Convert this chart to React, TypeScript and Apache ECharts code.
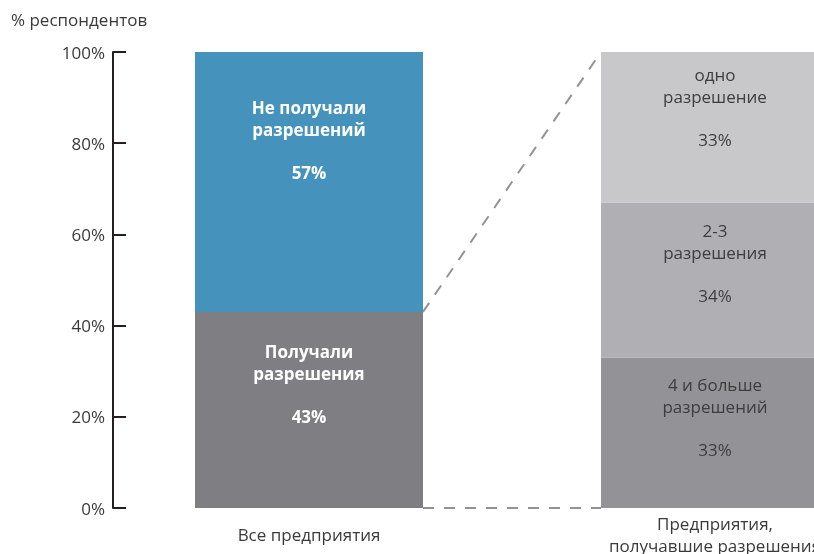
import React, { useEffect, useRef } from "react";
import * as echarts from "echarts";

const categories = ["Все предприятия", "Предприятия,\nполучавшие разрешения"];
const yTicks = [0, 20, 40, 60, 80, 100];
const bottomValues = [43, 33];
const middleValues = [57, 34];
const topValues: (number | null)[] = [null, 33];
const bottomLabels = ["Получали\nразрешения\n\n43%", "4 и больше\nразрешений\n\n33%"];
const middleLabels = ["Не получали\nразрешений\n\n57%", "2-3\nразрешения\n\n34%"];
const topLabels = ["", "одно\nразрешение\n\n33%"];

const FONT = "'Open Sans', 'Noto Sans', sans-serif";
const FS = 17;
const LH = 21.5;

const leftLabel = (text: string, dy: number) => ({
  show: true,
  position: "inside",
  formatter: text,
  color: "#ffffff",
  fontWeight: "bold",
  fontSize: FS,
  lineHeight: LH,
  fontFamily: FONT,
  offset: [0, dy],
});
const rightLabel = (text: string, dy: number) => ({
  show: true,
  position: "inside",
  formatter: text,
  color: "#3d3d3f",
  fontWeight: "normal",
  fontSize: FS,
  lineHeight: LH,
  fontFamily: FONT,
  offset: [0, dy],
});

export default function App() {
  const ref = useRef<HTMLDivElement>(null);
  useEffect(() => {
    if (!ref.current) return;
    const chart = echarts.init(ref.current, null, { renderer: "svg" });
    const BAR_W = 228;
    chart.setOption({
      animation: false,
      title: {
        text: "% респондентов",
        left: 6,
        top: 6,
        textStyle: { fontFamily: FONT, fontSize: FS, fontWeight: "normal", color: "#3a3a3a" },
      },
      grid: {
        left: 106,
        width: 812,
        top: 52,
        bottom: 46,
        containLabel: false,
        outerBoundsMode: "none",
      },
      xAxis: {
        type: "category",
        data: categories,
        axisLine: { show: false },
        axisTick: { show: false },
        axisLabel: {
          fontFamily: FONT,
          fontSize: FS,
          color: "#3a3a3a",
          lineHeight: 22,
          verticalAlign: "middle",
          margin: 26,
          interval: 0,
        },
      },
      yAxis: {
        type: "value",
        min: yTicks[0],
        max: yTicks[yTicks.length - 1],
        interval: 20,
        offset: -7,
        axisLine: { show: true, lineStyle: { color: "#231f20", width: 2 } },
        axisTick: { show: true, inside: true, length: 13, lineStyle: { color: "#231f20", width: 2 } },
        splitLine: { show: false },
        axisLabel: {
          formatter: "{value}%",
          fontFamily: FONT,
          fontSize: FS,
          color: "#3a3a3a",
          margin: 8,
        },
      },
      series: [
        {
          type: "bar",
          stack: "s",
          barWidth: BAR_W,
          data: [
            { value: bottomValues[0], itemStyle: { color: "#7f7f83" }, label: leftLabel(bottomLabels[0], -26) },
            { value: bottomValues[1], itemStyle: { color: "#939397" }, label: rightLabel(bottomLabels[1], -16) },
          ],
        },
        {
          type: "bar",
          stack: "s",
          barWidth: BAR_W,
          data: [
            { value: middleValues[0], itemStyle: { color: "#4593bd" }, label: leftLabel(middleLabels[0], -42) },
            { value: middleValues[1], itemStyle: { color: "#b0b0b4" }, label: rightLabel(middleLabels[1], -17) },
          ],
        },
        {
          type: "bar",
          stack: "s",
          barWidth: BAR_W,
          data: [
            { value: topValues[0], itemStyle: { color: "#c8c8cb" }, label: { show: false, formatter: topLabels[0] } },
            { value: topValues[1], itemStyle: { color: "#c8c8cb" }, label: rightLabel(topLabels[1], -20) },
          ],
        },
      ],
    });
    const a = chart.convertToPixel({ gridIndex: 0 }, [0, bottomValues[0]]) as number[];
    const a0 = chart.convertToPixel({ gridIndex: 0 }, [0, 0]) as number[];
    const b = chart.convertToPixel({ gridIndex: 0 }, [1, 100]) as number[];
    const b0 = chart.convertToPixel({ gridIndex: 0 }, [1, 0]) as number[];
    const dash = { stroke: "#939396", lineWidth: 2, lineDash: [11, 10] };
    chart.setOption({
      graphic: [
        { type: "line", shape: { x1: a[0] + BAR_W / 2, y1: a[1], x2: b[0] - BAR_W / 2, y2: b[1] }, style: dash },
        { type: "line", shape: { x1: a0[0] + BAR_W / 2, y1: a0[1], x2: b0[0] - BAR_W / 2, y2: b0[1] }, style: dash },
      ],
    });
    return () => chart.dispose();
  }, []);
  return <div ref={ref} style={{ position: "fixed", left: 0, top: 0, width: 814, height: 554 }} />;
}
